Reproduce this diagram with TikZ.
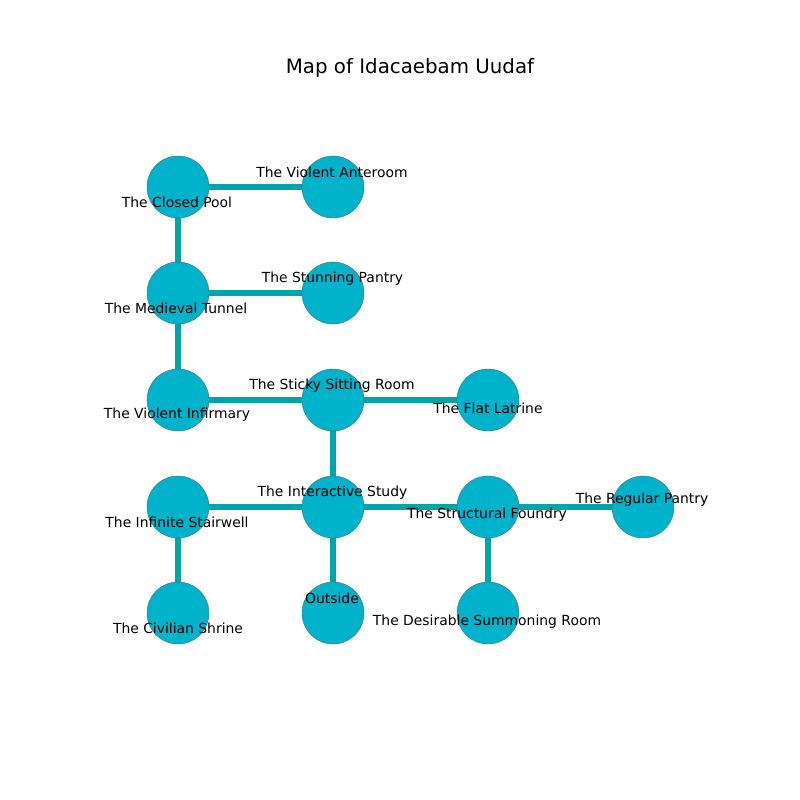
\documentclass[tikz,border=0pt]{standalone}
\usepackage{fontspec}
\setmainfont{DejaVu Sans}
\usetikzlibrary{backgrounds}
\definecolor{nodefill}{RGB}{0,178,202}
\definecolor{edgecol}{RGB}{0,166,166}
\definecolor{rim}{RGB}{70,110,120}
\begin{document}
\begin{tikzpicture}[x=1pt,y=-1pt,
  room/.style={circle,fill=nodefill,draw=rim,line width=0.4pt,minimum size=62pt,inner sep=0pt},
  lbl/.style={font=\fontsize{13.9}{16}\selectfont,text=black,inner sep=0pt},
  link/.style={draw=edgecol,line width=5.6pt}]
\useasboundingbox (0,0) rectangle (800,800);
\node[font=\fontsize{19.8}{24}\selectfont] (title) at (410,68) {Map of Idacaebam Uudaf};
% rooms
\node[room] (cp) at (178,187) {};
\node[room] (va) at (333,187) {};
\node[room] (mt) at (178,293) {};
\node[room] (sp) at (333,293) {};
\node[room] (vi) at (178,400) {};
\node[room] (ss) at (333,400) {};
\node[room] (fl) at (488,400) {};
\node[room] (is) at (178,507) {};
\node[room] (st) at (333,507) {};
\node[room] (sf) at (488,507) {};
\node[room] (rp) at (643,507) {};
\node[room] (cs) at (178,613) {};
\node[room] (ou) at (333,613) {};
\node[room] (ds) at (488,613) {};
% links
\begin{pgfonlayer}{background}
\draw[link] (cp.center) -- (va.center);
\draw[link] (cp.center) -- (mt.center);
\draw[link] (mt.center) -- (sp.center);
\draw[link] (mt.center) -- (vi.center);
\draw[link] (vi.center) -- (ss.center);
\draw[link] (ss.center) -- (fl.center);
\draw[link] (ss.center) -- (st.center);
\draw[link] (is.center) -- (st.center);
\draw[link] (st.center) -- (sf.center);
\draw[link] (sf.center) -- (rp.center);
\draw[link] (is.center) -- (cs.center);
\draw[link] (st.center) -- (ou.center);
\draw[link] (sf.center) -- (ds.center);
\end{pgfonlayer}
% labels
\node[lbl] (lcp) at (177,202.5) {The Closed Pool};
\node[lbl] (lva) at (332,172.5) {The Violent Anteroom};
\node[lbl] (lmt) at (176,308.5) {The Medieval Tunnel};
\node[lbl] (lsp) at (332.5,278.5) {The Stunning Pantry};
\node[lbl] (lvi) at (177,415) {The Violent Infirmary};
\node[lbl] (lss) at (332,385.5) {The Sticky Sitting Room};
\node[lbl] (lfl) at (488,408) {The Flat Latrine};
\node[lbl] (lis) at (177,522.5) {The Infinite Stairwell};
\node[lbl] (lst) at (332.5,492.5) {The Interactive Study};
\node[lbl] (lsf) at (487,514.5) {The Structural Foundry};
\node[lbl] (lrp) at (642,499.5) {The Regular Pantry};
\node[lbl] (lcs) at (178,628.5) {The Civilian Shrine};
\node[lbl] (lou) at (332,598.5) {Outside};
\node[lbl] (lds) at (487,621.5) {The Desirable Summoning Room};
\end{tikzpicture}
\end{document}
